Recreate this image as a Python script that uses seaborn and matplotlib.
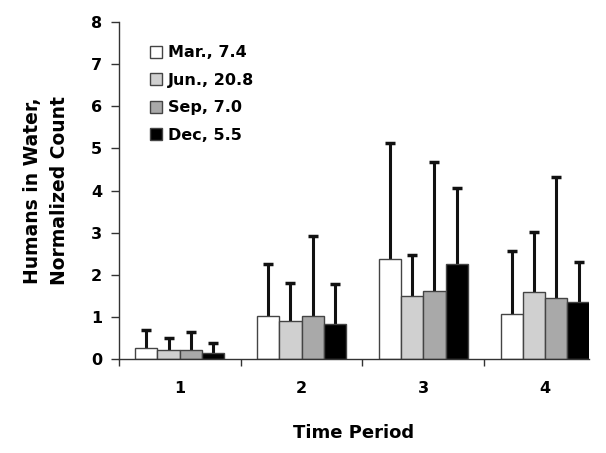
import matplotlib
matplotlib.use("Agg")
import matplotlib.pyplot as plt
import numpy as np
import pandas as pd
import seaborn as sns

periods = ["1", "2", "3", "4"]
months = ["Mar., 7.4", "Jun., 20.8", "Sep, 7.0", "Dec, 5.5"]

# mean normalized counts, one list per month (periods 1..4)
mar = [0.27, 1.02, 2.38, 1.06]
jun = [0.22, 0.90, 1.50, 1.60]
sep = [0.22, 1.02, 1.62, 1.46]
dec = [0.15, 0.83, 2.25, 1.35]

# upper error bar tops
mar_top = [0.70, 2.25, 5.12, 2.57]
jun_top = [0.50, 1.80, 2.47, 3.02]
sep_top = [0.63, 2.92, 4.68, 4.32]
dec_top = [0.38, 1.77, 4.06, 2.30]

colors = ["#ffffff", "#d0d0d0", "#a9a9a9", "#000000"]

means = [mar, jun, sep, dec]
tops = [mar_top, jun_top, sep_top, dec_top]

rows = []
for m, vals in zip(months, means):
    for p, v in zip(periods, vals):
        rows.append({"period": p, "month": m, "value": v})
df = pd.DataFrame(rows)

sns.set_style("ticks")
plt.rcParams["font.family"] = ["DejaVu Sans"]
plt.rcParams["font.weight"] = "bold"
plt.rcParams["text.color"] = "black"
plt.rcParams["xtick.color"] = "#333333"
plt.rcParams["ytick.color"] = "#333333"
plt.rcParams["xtick.labelcolor"] = "black"
plt.rcParams["ytick.labelcolor"] = "black"
plt.rcParams["axes.labelcolor"] = "black"

fig = plt.figure(figsize=(6.06, 4.53), dpi=100)
ax = fig.add_axes([0.196, 0.2075, 0.776, 0.7435])

sns.barplot(data=df, x="period", y="value", hue="month", hue_order=months,
            palette=colors, width=0.73, errorbar=None, edgecolor="#444444",
            linewidth=1.0, saturation=1, ax=ax)

# upper error bars only (hide the lower caps)
for cont, vals, tp in zip(ax.containers, means, tops):
    xs = [b.get_x() + b.get_width() / 2 for b in cont]
    err = np.array(tp) - np.array(vals)
    eb = ax.errorbar(xs, vals, yerr=[np.zeros(len(err)), err], fmt="none",
                     ecolor="#111111", elinewidth=2.2, capsize=3.5,
                     capthick=2.5, zorder=0.5)
    eb[1][0].set_visible(False)

ax.set_ylim(0, 8)
ax.set_xlim(-0.5, 3.36)
ax.set_yticks(range(0, 9))
ax.set_xticks(range(4))
ax.set_xticks([-0.5, 0.5, 1.5, 2.5], minor=True)
ax.tick_params(axis="x", which="major", length=0, pad=16, labelsize=11.5)
ax.tick_params(axis="x", which="minor", length=5, width=1)
ax.tick_params(axis="y", length=6, width=1, labelsize=11.5, pad=6)
for lbl in ax.get_xticklabels() + ax.get_yticklabels():
    lbl.set_fontweight("bold")

sns.despine(ax=ax)
for s in ("left", "bottom"):
    ax.spines[s].set_color("#333333")
    ax.spines[s].set_linewidth(1.0)

ax.set_xlabel("Time Period", fontsize=13, fontweight="bold", labelpad=20)
ax.set_ylabel("Humans in Water,\nNormalized Count", fontsize=13.5,
              fontweight="bold", labelpad=16, linespacing=1.5)

leg = ax.legend(loc="upper left", bbox_to_anchor=(0.052, 0.95), frameon=False,
                fontsize=11.5, handlelength=0.8, handleheight=0.8,
                handletextpad=0.35, labelspacing=0.78, borderaxespad=0)
for t in leg.get_texts():
    t.set_fontweight("bold")

fig.savefig("out.png", dpi=100)
